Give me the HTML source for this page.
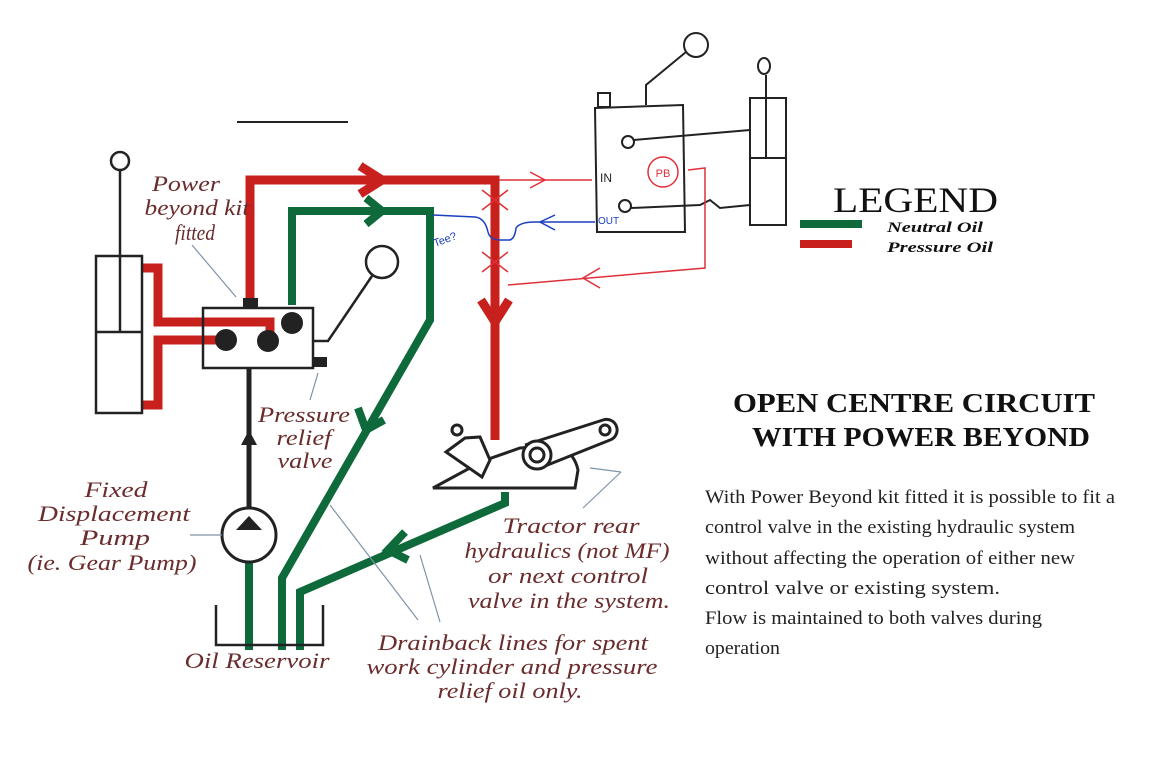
<!DOCTYPE html>
<html><head><meta charset="utf-8"><style>
body{margin:0;background:#fff;}
svg{display:block}
.l{font-family:"Liberation Serif",serif;font-style:italic;fill:#6a2c2c;font-size:22px;text-anchor:middle}
.p{font-family:"Liberation Serif",serif;font-size:19px;fill:#222}
</style></head><body>
<svg width="1149" height="763" viewBox="0 0 1149 763">
<rect width="1149" height="763" fill="#fff"/>
<line x1="237" y1="122" x2="348" y2="122" stroke="#222" stroke-width="2"/>
<g fill="none" stroke="#c8201c" stroke-width="9" stroke-linejoin="miter">
<polyline points="250,300 250,180 495,180 495,440"/>
<polyline points="142,268 158,268 158,322 270,322 270,336"/>
<polyline points="142,405 158,405 158,340 226,340"/>
<polyline points="360,166 382,180 360,194"/>
<polyline points="481,300 495,322 509,300"/>
</g>
<g fill="none" stroke="#0e6a3a" stroke-width="8">
<polyline points="292,305 292,211 430,211 430,320 282,578 282,650"/>
<polyline points="505,492 505,503 300,592 300,650"/>
<line x1="249" y1="560" x2="249" y2="650"/>
<polyline points="366,198 382,211 366,224"/>
<polyline points="358,408 366,430 384,420"/>
<polyline points="405,532 388,550 408,560"/>
</g>
<polyline points="216,605 216,645 323,645 323,605" fill="none" stroke="#222" stroke-width="2.5"/>
<line x1="249" y1="368" x2="249" y2="510" stroke="#222" stroke-width="5"/>
<polygon points="241,445 249,430 257,445" fill="#222"/>
<circle cx="249" cy="535" r="27" fill="#fff" stroke="#222" stroke-width="3"/>
<polygon points="236,530 249,516 262,530" fill="#222"/>
<rect x="96" y="256" width="46" height="157" fill="#fff" stroke="#222" stroke-width="2.5"/>
<line x1="96" y1="332" x2="142" y2="332" stroke="#222" stroke-width="2.5"/>
<line x1="120" y1="170" x2="120" y2="332" stroke="#222" stroke-width="2.5"/>
<circle cx="120" cy="161" r="9" fill="#fff" stroke="#222" stroke-width="2.5"/>
<rect x="203" y="308" width="110" height="60" fill="none" stroke="#222" stroke-width="2.5"/>
<rect x="243" y="298" width="15" height="10" fill="#222"/>
<rect x="313" y="357" width="14" height="10" fill="#222"/>
<circle cx="226" cy="340" r="11" fill="#222"/>
<circle cx="268" cy="341" r="11" fill="#222"/>
<circle cx="292" cy="323" r="11" fill="#222"/>
<polyline points="313,341 328,341 372,276" fill="none" stroke="#222" stroke-width="2.5"/>
<circle cx="382" cy="262" r="16" fill="#fff" stroke="#222" stroke-width="2.5"/>
<g stroke="#7f93a8" stroke-width="1.2" fill="none">
<line x1="192" y1="245" x2="236" y2="297"/>
<line x1="310" y1="400" x2="318" y2="373"/>
<line x1="190" y1="535" x2="222" y2="535"/>
<line x1="418" y1="620" x2="330" y2="505"/>
<line x1="440" y1="622" x2="420" y2="555"/>
<line x1="583" y1="508" x2="621" y2="472"/>
<line x1="621" y1="472" x2="590" y2="468"/>
</g>
<g fill="#fff" stroke="#222" stroke-width="3">
<path d="M433,488 L575,488 L578,470 Q575,455 560,445 L520,448 L480,462 L470,468 Z"/>
<polygon points="446,452 465,438 480,437 490,460 482,477"/>
<path d="M525,445 L603,420 A10,10 0 0 1 610,440 L540,468"/>
<circle cx="537" cy="455" r="14"/>
<circle cx="537" cy="455" r="7"/>
<circle cx="605" cy="430" r="5"/>
<circle cx="457" cy="430" r="5"/>
</g>
<g fill="none" stroke="#222" stroke-width="2">
<path d="M595,108 L683,105 L685,232 L597,232 Z"/>
<rect x="598" y="93" width="12" height="14"/>
<polyline points="646,105 646,85 686,52"/>
<circle cx="696" cy="45" r="12"/>
<rect x="750" y="98" width="36" height="127"/>
<line x1="750" y1="158" x2="786" y2="158"/>
<line x1="766" y1="75" x2="766" y2="158"/>
<ellipse cx="764" cy="66" rx="6" ry="8"/>
<circle cx="628" cy="142" r="6"/>
<circle cx="625" cy="206" r="6"/>
<line x1="634" y1="140" x2="750" y2="130"/>
<polyline points="631,208 700,205 710,200 720,208 750,205"/>
</g>
<text x="600" y="182" font-family="Liberation Sans,sans-serif" font-size="12" fill="#222">IN</text>
<text x="598" y="224" font-family="Liberation Sans,sans-serif" font-size="10" fill="#1a3fc0">OUT</text>
<g fill="none" stroke="#e0303a" stroke-width="1.5">
<circle cx="663" cy="172" r="15"/>
<polyline points="499,180 592,180"/>
<polyline points="530,172 545,180 530,188"/>
<polyline points="688,170 705,168 705,268 508,285"/>
<polyline points="600,268 583,278 600,288"/>
<path d="M482,190 L508,210 M508,190 L482,210 M482,252 L508,272 M508,252 L482,272"/>
</g>
<text x="663" y="177" font-family="Liberation Sans,sans-serif" font-size="11" fill="#e0303a" text-anchor="middle">PB</text>
<path d="M433,215 L475,217 Q485,218 488,232 Q490,240 500,240 L510,240 Q515,238 516,228 Q520,222 535,222 L595,222" fill="none" stroke="#1a3fc0" stroke-width="1.5"/>
<polyline points="555,215 540,222 555,230" fill="none" stroke="#1a3fc0" stroke-width="1.5"/>
<text x="435" y="247" font-family="Liberation Sans,sans-serif" font-size="11" fill="#1a3fc0" transform="rotate(-20 435 247)">Tee?</text>
<text x="833" y="212" font-family="Liberation Serif,serif" font-size="36" fill="#111" textLength="165" lengthAdjust="spacingAndGlyphs">LEGEND</text>
<rect x="800" y="220" width="62" height="8" fill="#0e6a3a"/>
<rect x="800" y="240" width="52" height="8" fill="#c8201c"/>
<text x="887" y="232" font-family="Liberation Serif,serif" font-size="15" font-style="italic" font-weight="bold" fill="#111" textLength="96" lengthAdjust="spacingAndGlyphs">Neutral Oil</text>
<text x="887" y="252" font-family="Liberation Serif,serif" font-size="15" font-style="italic" font-weight="bold" fill="#111" textLength="106" lengthAdjust="spacingAndGlyphs">Pressure Oil</text>
<text x="733" y="412" font-family="Liberation Serif,serif" font-size="27" font-weight="bold" fill="#111" textLength="362" lengthAdjust="spacingAndGlyphs">OPEN CENTRE CIRCUIT</text>
<text x="752" y="446" font-family="Liberation Serif,serif" font-size="27" font-weight="bold" fill="#111" textLength="338" lengthAdjust="spacingAndGlyphs">WITH POWER BEYOND</text>
<text class="p" x="705" y="503" textLength="410" lengthAdjust="spacingAndGlyphs">With Power Beyond kit fitted it is possible to fit a</text>
<text class="p" x="705" y="533" textLength="370" lengthAdjust="spacingAndGlyphs">control valve in the existing hydraulic system</text>
<text class="p" x="705" y="564" textLength="370" lengthAdjust="spacingAndGlyphs">without affecting the operation of either new</text>
<text class="p" x="705" y="594" textLength="295" lengthAdjust="spacingAndGlyphs">control valve or existing system.</text>
<text class="p" x="705" y="624" textLength="337" lengthAdjust="spacingAndGlyphs">Flow is maintained to both valves during</text>
<text class="p" x="705" y="654" textLength="75" lengthAdjust="spacingAndGlyphs">operation</text>
<g lengthAdjust="spacingAndGlyphs">
<text class="l" x="186" y="191" textLength="68" lengthAdjust="spacingAndGlyphs">Power</text>
<text class="l" x="197" y="215" textLength="105" lengthAdjust="spacingAndGlyphs">beyond kit</text>
<text class="l" x="195" y="240" textLength="40" lengthAdjust="spacingAndGlyphs">fitted</text>
<text class="l" x="304" y="422" textLength="92" lengthAdjust="spacingAndGlyphs">Pressure</text>
<text class="l" x="304" y="445" textLength="55" lengthAdjust="spacingAndGlyphs">relief</text>
<text class="l" x="305" y="468" textLength="55" lengthAdjust="spacingAndGlyphs">valve</text>
<text class="l" x="116" y="497" textLength="63" lengthAdjust="spacingAndGlyphs">Fixed</text>
<text class="l" x="114" y="521" textLength="152" lengthAdjust="spacingAndGlyphs">Displacement</text>
<text class="l" x="115" y="545" textLength="70" lengthAdjust="spacingAndGlyphs">Pump</text>
<text class="l" x="112" y="570" textLength="169" lengthAdjust="spacingAndGlyphs">(ie. Gear Pump)</text>
<text class="l" x="257" y="668" textLength="145" lengthAdjust="spacingAndGlyphs">Oil Reservoir</text>
<text class="l" x="571" y="533" textLength="137" lengthAdjust="spacingAndGlyphs">Tractor rear</text>
<text class="l" x="567" y="558" textLength="205" lengthAdjust="spacingAndGlyphs">hydraulics (not MF)</text>
<text class="l" x="568" y="583" textLength="160" lengthAdjust="spacingAndGlyphs">or next control</text>
<text class="l" x="569" y="608" textLength="202" lengthAdjust="spacingAndGlyphs">valve in the system.</text>
<text class="l" x="513" y="650" textLength="270" lengthAdjust="spacingAndGlyphs">Drainback lines for spent</text>
<text class="l" x="512" y="674" textLength="291" lengthAdjust="spacingAndGlyphs">work cylinder and pressure</text>
<text class="l" x="510" y="698" textLength="145" lengthAdjust="spacingAndGlyphs">relief oil only.</text>
</g>
</svg>
</body></html>
